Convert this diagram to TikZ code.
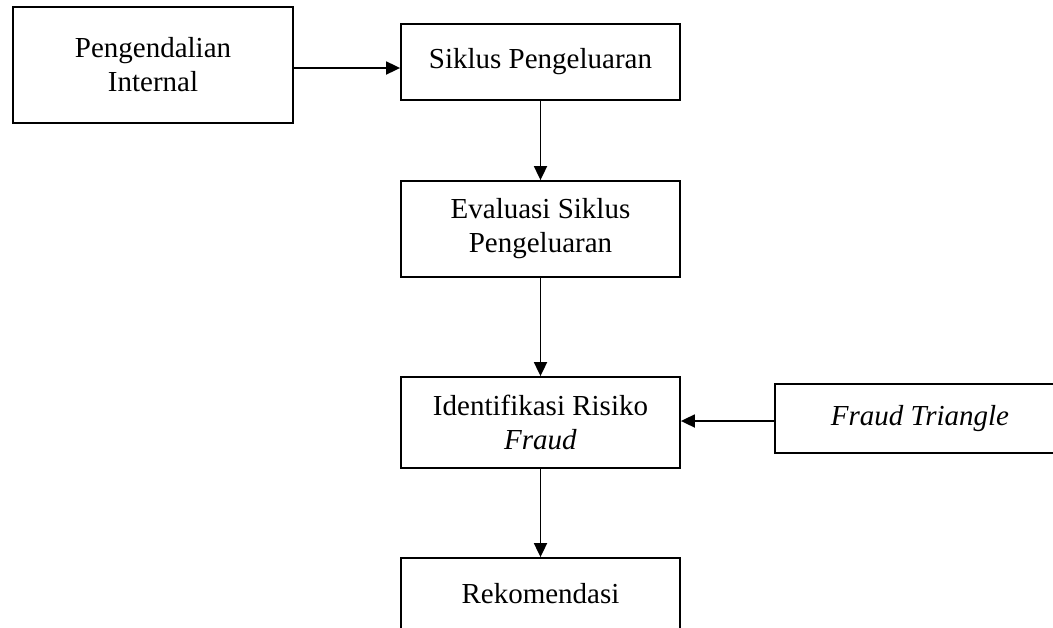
\documentclass[tikz,border=0pt]{standalone}
\usepackage{fontspec}
\setmainfont{Liberation Serif}
\usetikzlibrary{arrows.meta}
\begin{document}
\begin{tikzpicture}[x=1pt,y=1pt,
  box/.style={draw, line width=1.8pt, align=center, inner sep=0pt,
    font=\fontsize{29}{34}\selectfont},
  arr/.style={line width=1.8pt, -{Triangle[length=14pt,width=13pt]}}]
\useasboundingbox (0,0) rectangle (1053,-627);
\clip (0,0) rectangle (1053,-627);
\fill[white] (0,0) rectangle (1053,-627);
\node[box, minimum width=280pt, minimum height=116pt] (pi) at (153,-65) {Pengendalian\\Internal};
\node[box, minimum width=279pt, minimum height=76pt] (sp) at (540.5,-62) {Siklus Pengeluaran};
\node[box, minimum width=279pt, minimum height=96pt] (ev) at (540.5,-229) {Evaluasi Siklus\\Pengeluaran};
\node[box, minimum width=279pt, minimum height=91pt] (id) at (540.5,-422.5) {Identifikasi Risiko\\\textit{Fraud}};
\node[box, minimum width=279pt, minimum height=72pt] (rk) at (540.5,-594) {Rekomendasi};
\node[box, minimum width=290pt, minimum height=69pt] (ft) at (920,-418.5) {\textit{Fraud Triangle}};
\coordinate (h1) at (0,-68);
\coordinate (h2) at (0,-421);
\draw[arr] (pi.east |- h1) -- (sp.west |- h1);
\draw[arr] (sp.south) -- (ev.north);
\draw[arr] (ev.south) -- (id.north);
\draw[arr] (id.south) -- (rk.north);
\draw[arr] (ft.west |- h2) -- (id.east |- h2);
\end{tikzpicture}
\end{document}
